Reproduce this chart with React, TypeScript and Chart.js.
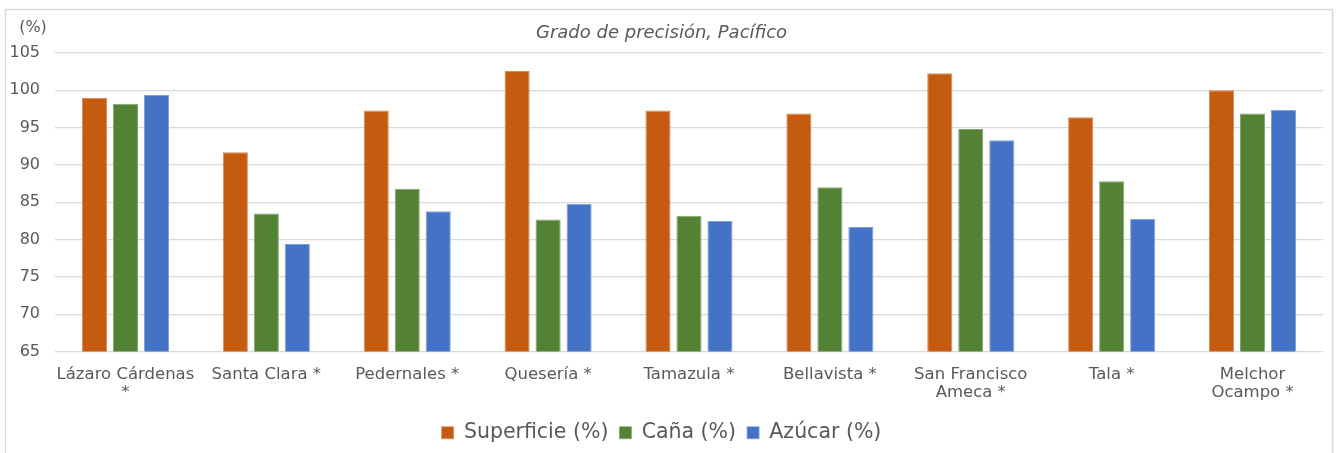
import React, { useEffect, useRef } from "react";
import { Chart, registerables } from "chart.js";

Chart.register(...registerables);

const categories: (string | string[])[] = [
  ["Lázaro Cárdenas", "*"],
  "Santa Clara *",
  "Pedernales *",
  "Quesería *",
  "Tamazula *",
  "Bellavista *",
  ["San Francisco", "Ameca *"],
  "Tala *",
  ["Melchor", "Ocampo *"],
];

const superficie = [99.0, 91.7, 97.3, 102.6, 97.3, 96.9, 102.3, 96.4, 100.0];
const cana = [98.2, 83.5, 86.8, 82.7, 83.2, 87.0, 94.8, 87.8, 96.9];
const azucar = [99.4, 79.4, 83.8, 84.8, 82.5, 81.7, 93.3, 82.8, 97.4];

const seriesNames = ["Superficie (%)", "Caña (%)", "Azúcar (%)"];
const seriesColors = ["#C55A11", "#548235", "#4472C4"];
const seriesBorders = ["#D98A55", "#84A56E", "#7E9FD8"];

const yMin = 65;
const yMax = 105;
const yStep = 5;
const titleText = "Grado de precisión, Pacífico";
const unitText = "(%)";

const FONT = "'DejaVu Sans', sans-serif";
const TEXT = "#595959";

export default function App() {
  const ref = useRef<HTMLCanvasElement | null>(null);

  useEffect(() => {
    document.body.style.margin = "0";
    if (!ref.current) return;

    const framePlugin = {
      id: "frame",
      beforeDraw(chart: any) {
        const ctx = chart.ctx;
        ctx.save();
        ctx.fillStyle = "#ffffff";
        ctx.fillRect(0, 0, chart.width, chart.height);
        ctx.strokeStyle = "#d9d9d9";
        ctx.lineWidth = 1.5;
        ctx.strokeRect(5.5, 9.5, 1327, chart.height + 10);
        ctx.restore();
      },
      afterDraw(chart: any) {
        const ctx = chart.ctx;
        ctx.save();
        ctx.fillStyle = TEXT;
        ctx.font = `16px ${FONT}`;
        ctx.textAlign = "center";
        ctx.textBaseline = "middle";
        ctx.fillText(unitText, 33, 28);
        ctx.restore();
      },
    };

    const data = [superficie, cana, azucar];
    const chart = new Chart(ref.current, {
      type: "bar",
      data: {
        labels: categories,
        datasets: seriesNames.map((name, i) => ({
          label: name,
          data: data[i],
          backgroundColor: seriesColors[i],
          borderColor: seriesBorders[i],
          borderWidth: { top: 1, left: 1, right: 1, bottom: 0 },
          categoryPercentage: 0.66,
          barPercentage: 0.81,
        })),
      },
      options: {
        animation: false,
        responsive: false,
        maintainAspectRatio: false,
        layout: { padding: { left: 0, right: 20, top: 10, bottom: 0 } },
        plugins: {
          title: {
            display: true,
            text: titleText,
            color: TEXT,
            font: { family: FONT, size: 18, style: "italic", weight: "normal", lineHeight: 1.2 },
            padding: { top: 13, bottom: 8.4 },
          },
          legend: {
            position: "bottom",
            labels: {
              color: TEXT,
              font: { family: FONT, size: 20.5 },
              boxWidth: 12,
              boxHeight: 12,
              padding: 11,
            },
          },
          tooltip: { enabled: false },
        },
        scales: {
          x: {
            grid: { display: false, drawTicks: false },
            border: { display: false },
            ticks: {
              color: TEXT,
              font: { family: FONT, size: 16.5, lineHeight: 1.1 },
              padding: 14,
              maxRotation: 0,
              autoSkip: false,
            },
            afterFit(scale: any) {
              scale.height = 60;
            },
          },
          y: {
            min: yMin,
            max: yMax,
            ticks: {
              stepSize: yStep,
              color: TEXT,
              font: { family: FONT, size: 16 },
              padding: 15,
            },
            grid: { color: "#d9d9d9", lineWidth: 1.3, drawTicks: false },
            border: { display: false },
            afterFit(scale: any) {
              scale.width = 55;
            },
          },
        },
      },
      plugins: [framePlugin],
    } as any);

    return () => chart.destroy();
  }, []);

  return (
    <div style={{ position: "absolute", left: 0, top: 0, width: 1343, height: 453 }}>
      <canvas ref={ref} width={1343} height={453} style={{ width: 1343, height: 453 }} />
    </div>
  );
}
